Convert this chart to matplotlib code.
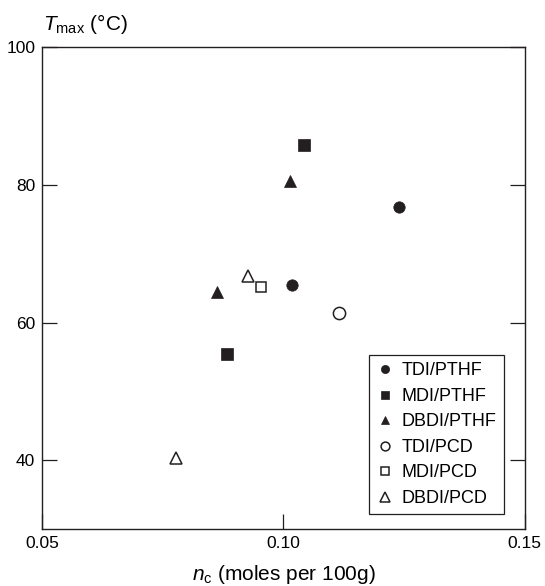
import matplotlib
matplotlib.use("Agg")
import matplotlib.pyplot as plt

# Data
labels = ["TDI/PTHF", "MDI/PTHF", "DBDI/PTHF", "TDI/PCD", "MDI/PCD", "DBDI/PCD"]
nc_values = [
    [0.1018, 0.1239],   # TDI/PTHF
    [0.1043, 0.0882],   # MDI/PTHF
    [0.1014, 0.0862],   # DBDI/PTHF
    [0.1116],           # TDI/PCD
    [0.0954],           # MDI/PCD
    [0.0927, 0.0777],   # DBDI/PCD
]
tmax_values = [
    [65.4, 76.8],
    [85.8, 55.5],
    [80.5, 64.4],
    [61.4],
    [65.2],
    [66.8, 40.3],
]
x_ticks = [0.05, 0.10, 0.15]
x_tick_labels = ["0.05", "0.10", "0.15"]
y_ticks = [40, 60, 80, 100]

# Styles
ink = "#231f20"
markers = ["o", "s", "^", "o", "s", "^"]
filled = [True, True, True, False, False, False]
sizes = [8.2, 8.0, 8.6, 8.8, 7.6, 9.2]

plt.rcParams["font.family"] = ["Liberation Sans", "DejaVu Sans"]
plt.rcParams["mathtext.fontset"] = "custom"
plt.rcParams["mathtext.rm"] = "Liberation Sans"
plt.rcParams["mathtext.it"] = "Liberation Sans:italic"

fig = plt.figure(figsize=(5.45, 5.86), dpi=100)
W, H = 545, 586
left, right, top, bottom = 42.3, 524.5, 47.3, 529.0
ax = fig.add_axes([left / W, 1 - bottom / H, (right - left) / W, (bottom - top) / H])

for lab, xs, ys, m, f, ms in zip(labels, nc_values, tmax_values, markers, filled, sizes):
    ax.plot(xs, ys, linestyle="none", marker=m, markersize=ms,
            markerfacecolor=ink if f else "white", markeredgecolor=ink,
            markeredgewidth=0.5 if f else 1.1, label=lab)

ax.set_xlim(0.05, 0.15)
ax.set_ylim(30, 100)
ax.set_xticks(x_ticks)
ax.set_xticklabels(x_tick_labels)
ax.set_yticks(y_ticks)

for sp in ax.spines.values():
    sp.set_color(ink)
    sp.set_linewidth(1.0)

ax.tick_params(axis="both", direction="in", length=10.8, width=0.9, color=ink,
               labelsize=12.5, labelcolor="black")
ax.tick_params(axis="x", pad=5, top=False)
ax.tick_params(axis="y", pad=5, right=True)

leg = ax.legend(loc="lower right", bbox_to_anchor=(0.9575, 0.031), borderaxespad=0,
                fontsize=13, markerscale=0.72, frameon=True, fancybox=False,
                edgecolor=ink, framealpha=1, handlelength=1.0, handletextpad=0.45,
                labelspacing=0.47, borderpad=0.4)
leg.get_frame().set_linewidth(0.9)

fig.text(43 / W, 1 - 30 / H, r"$T_{\mathrm{max}}$ (°C)", fontsize=15, ha="left", va="baseline")
fig.text((left + right) / 2 / W, 1 - 580 / H, r"$n_{\mathrm{c}}$ (moles per 100g)",
         fontsize=15, ha="center", va="baseline")

fig.savefig("out.png", dpi=100)
